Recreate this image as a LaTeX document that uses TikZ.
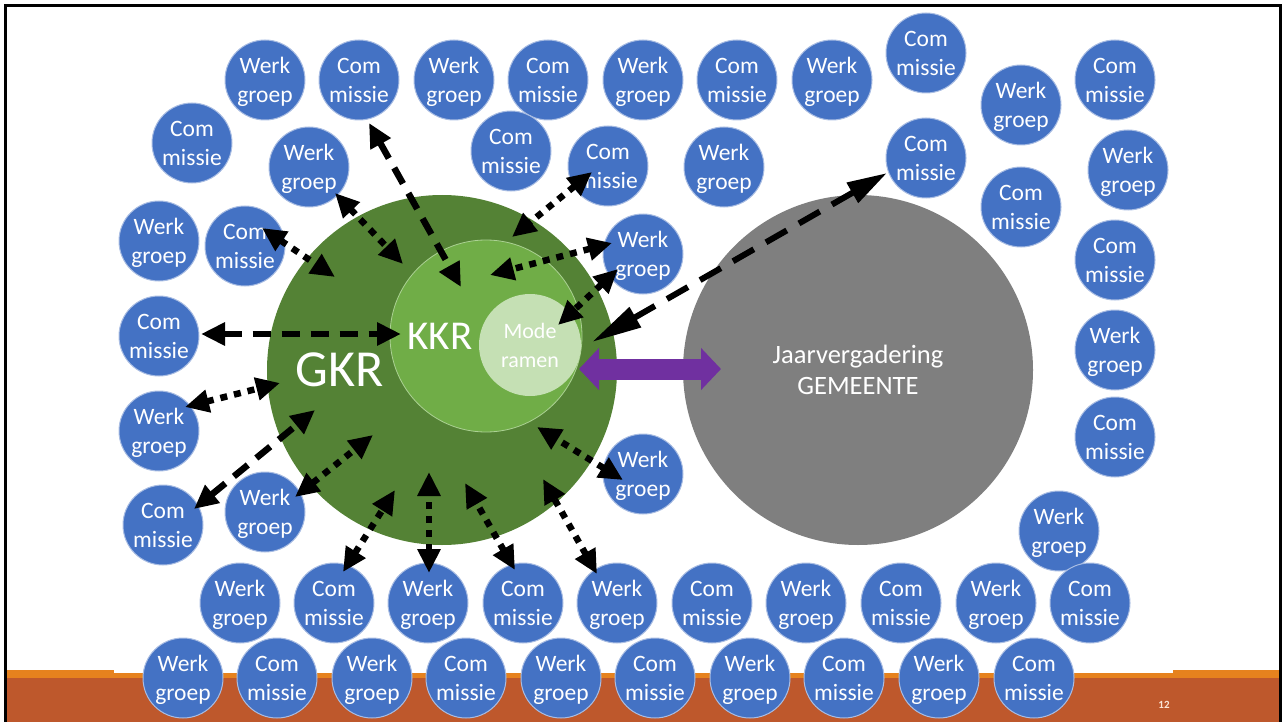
\documentclass[tikz,border=0pt]{standalone}
\usepackage{fontspec}
\setmainfont{Carlito}
\usetikzlibrary{arrows.meta}
\definecolor{blobblue}{HTML}{4472C4}
\definecolor{blobedge}{HTML}{A9BDE3}
\definecolor{gkrgreen}{HTML}{548235}
\definecolor{kkrgreen}{HTML}{70AD47}
\definecolor{modegreen}{HTML}{C5E0B4}
\definecolor{jvgray}{HTML}{7F7F7F}
\definecolor{arrpurple}{HTML}{7030A0}
\definecolor{bandorange}{HTML}{E6821E}
\definecolor{bandrust}{HTML}{BE582C}
\definecolor{pagenum}{HTML}{FBE5D6}
\newcommand\WGblob[3]{\node[blob] (#1) at (#2,#3) {Werk\\\smash{groep}};}
\newcommand\CMblob[3]{\node[blob] (#1) at (#2,#3) {Com\\\smash{missie}};}
\begin{document}
\begin{tikzpicture}[x=1pt,y=-1pt,
  blob/.style={circle, fill=blobblue, draw=blobedge, line width=1pt, minimum size=80pt, inner sep=0pt, text=white, align=center, font=\fontsize{23.5}{29}\selectfont},
  bigdisc/.style={circle, inner sep=0pt},
  arr/.style={line width=6.5pt, black, {Triangle[length=24pt,width=22pt]}-{Triangle[length=24pt,width=22pt]}},
  dashd/.style={arr, dash pattern=on 18pt off 11pt},
  dotd/.style={arr, dash pattern=on 7pt off 7pt},
  longd/.style={line width=6pt, black, dash pattern=on 24pt off 14pt, {Triangle[length=50pt,width=22pt]}-{Triangle[length=40pt,width=22pt]}},
  dblarrow/.style={line width=21pt, arrpurple, {Triangle[length=20pt,width=41pt]}-{Triangle[length=20pt,width=41pt]}}
]
\useasboundingbox (0,0) rectangle (1284,722);
% bottom band
\fill[bandorange] (5,673) rectangle (1281,678);
\fill[bandorange] (5,670) rectangle (114,678);
\fill[bandorange] (1173,670) rectangle (1281,678);
\fill[bandrust] (5,678) rectangle (1281,722);
\node[text=pagenum, font=\fontsize{11}{13}\selectfont\bfseries] (pnum) at (1164,705) {12};
% big circles
\node[bigdisc, fill=gkrgreen, minimum size=350pt] (gkr) at (442,370) {};
\node[bigdisc, fill=kkrgreen, draw=modegreen!70!kkrgreen, line width=0.8pt, minimum size=192pt] (kkr) at (486,336) {};
\node[bigdisc, fill=modegreen, minimum size=102pt, text=white, align=center, font=\fontsize{22}{29}\selectfont] (mode) at (530,345) {Mode\\\smash{ramen}};
\node[bigdisc, fill=jvgray, minimum size=350pt, text=white, align=center, font=\fontsize{26.5}{31}\selectfont] (jaar) at (858,370) {Jaarvergadering\\\smash{GEMEENTE}};
\node[text=white, font=\fontsize{52}{60}\selectfont] (gkrtext) at (340,370) {GKR};
\node[text=white, font=\fontsize{41}{48}\selectfont] (kkrtext) at (440,336) {KKR};
% blue circles
\WGblob{w1}{265}{80} \CMblob{c1}{359}{80} \WGblob{w2}{454}{80} \CMblob{c2}{548}{80}
\WGblob{w3}{643}{80} \CMblob{c3}{737}{80} \WGblob{w4}{832}{80} \CMblob{c4}{926}{53}
\WGblob{w5}{1021}{105} \CMblob{c5}{1115}{80}
\CMblob{c6}{192}{143} \WGblob{w6}{309}{167} \CMblob{c7}{511}{151} \CMblob{c8}{608}{166}
\WGblob{w7}{724}{167} \CMblob{c9}{926}{158} \WGblob{w8}{1128}{170} \CMblob{c10}{1021}{207}
\CMblob{c11}{1115}{260}
\WGblob{w9}{159}{241} \CMblob{c12}{245}{246} \WGblob{w10}{643}{254} \CMblob{c13}{159}{336}
\WGblob{w11}{1115}{350} \WGblob{w12}{159}{431} \CMblob{c14}{1115}{437} \WGblob{w13}{643}{474}
\CMblob{c15}{163}{525} \WGblob{w14}{265}{512} \WGblob{w15}{1059}{531}
\WGblob{w16}{240}{603} \CMblob{c16}{334}{603} \WGblob{w17}{428}{603} \CMblob{c17}{523}{603}
\WGblob{w18}{617}{603} \CMblob{c18}{712}{603} \WGblob{w19}{806}{603} \CMblob{c19}{901}{603}
\WGblob{w20}{996}{603} \CMblob{c20}{1090}{603}
\WGblob{w21}{183}{678} \CMblob{c21}{277}{678} \WGblob{w22}{372}{678} \CMblob{c22}{466}{678}
\WGblob{w23}{561}{678} \CMblob{c23}{655}{678} \WGblob{w24}{750}{678} \CMblob{c24}{844}{678}
\WGblob{w25}{939}{678} \CMblob{c25}{1034}{678}
% arrow end points
\coordinate (aA1) at (369,123); \coordinate (aA2) at (461,287);
\coordinate (aB1) at (335,193); \coordinate (aB2) at (403,264);
\coordinate (aC1) at (262,228); \coordinate (aC2) at (335,277);
\coordinate (aD1) at (201,334); \coordinate (aD2) at (401,334);
\coordinate (aE1) at (185,407); \coordinate (aE2) at (280,383);
\coordinate (aF1) at (194,509); \coordinate (aF2) at (315,410);
\coordinate (aG1) at (295,497); \coordinate (aG2) at (373,435);
\coordinate (aH1) at (343,572); \coordinate (aH2) at (395,490);
\coordinate (aI1) at (429,573); \coordinate (aI2) at (429,472);
\coordinate (aJ1) at (515,570); \coordinate (aJ2) at (465,483);
\coordinate (aK1) at (597,574); \coordinate (aK2) at (543,479);
\coordinate (aL1) at (623,480); \coordinate (aL2) at (537,427);
\coordinate (aM1) at (592,172); \coordinate (aM2) at (512,237);
\coordinate (aN1) at (612,243); \coordinate (aN2) at (490,275);
\coordinate (aO1) at (618,269); \coordinate (aO2) at (558,325);
\coordinate (aP1) at (592,342); \coordinate (aP2) at (887,173);
\coordinate (pu1) at (579,369); \coordinate (pu2) at (721,369);
% arrows
\draw[dashd] (aA1) -- (aA2);
\draw[dotd] (aB1) -- (aB2);
\draw[dotd] (aC1) -- (aC2);
\draw[dashd] (aD1) -- (aD2);
\draw[dotd] (aE1) -- (aE2);
\draw[dashd] (aF1) -- (aF2);
\draw[dotd] (aG1) -- (aG2);
\draw[dotd] (aH1) -- (aH2);
\draw[dotd] (aI1) -- (aI2);
\draw[dotd] (aJ1) -- (aJ2);
\draw[dotd] (aK1) -- (aK2);
\draw[dotd] (aL1) -- (aL2);
\draw[dotd] (aM1) -- (aM2);
\draw[dotd] (aN1) -- (aN2);
\draw[dotd] (aO1) -- (aO2);
\draw[longd] (aP1) -- (aP2);
\draw[dblarrow] (pu1) -- (pu2);
% frame
\draw[line width=3pt] (5.5,722) -- (5.5,6) -- (1280.5,6) -- (1280.5,722);
\end{tikzpicture}
\end{document}
